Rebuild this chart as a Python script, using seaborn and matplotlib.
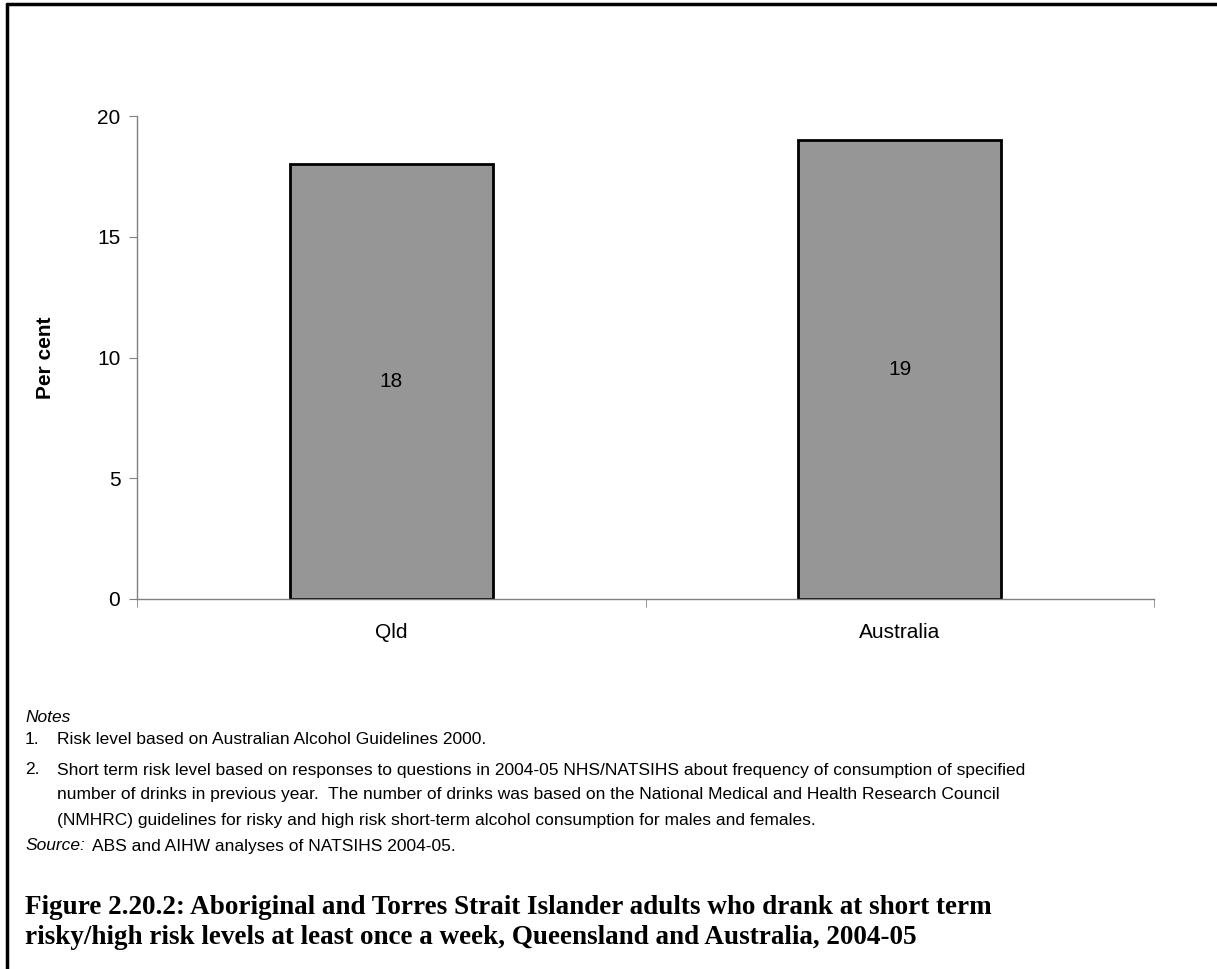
import matplotlib
matplotlib.use("Agg")
import matplotlib.pyplot as plt
from matplotlib.lines import Line2D
import seaborn as sns
import pandas as pd

regions = ["Qld", "Australia"]
per_cent = [18, 19]
y_ticks = [0, 5, 10, 15, 20]

notes = [
    ("1.", ["Risk level based on Australian Alcohol Guidelines 2000."]),
    ("2.", ["Short term risk level based on responses to questions in 2004-05 NHS/NATSIHS about frequency of consumption of specified",
            "number of drinks in previous year.  The number of drinks was based on the National Medical and Health Research Council",
            "(NMHRC) guidelines for risky and high risk short-term alcohol consumption for males and females."]),
]
source_text = "ABS and AIHW analyses of NATSIHS 2004-05."
caption = ["Figure 2.20.2: Aboriginal and Torres Strait Islander adults who drank at short term",
           "risky/high risk levels at least once a week, Queensland and Australia, 2004-05"]

sns.set_style("white")
plt.rcParams['font.family'] = ['Liberation Sans', 'DejaVu Sans']
plt.rcParams['text.color'] = 'black'
plt.rcParams['axes.labelcolor'] = 'black'
plt.rcParams['xtick.color'] = 'black'
plt.rcParams['ytick.color'] = 'black'

W, H = 1217, 969
fig = plt.figure(figsize=(W / 100, H / 100), dpi=100)
ax = fig.add_axes([137 / W, 1 - 599 / H, (1154 - 137) / W, (599 - 116) / H])

df = pd.DataFrame({"Region": regions, "Per cent": per_cent})
sns.barplot(data=df, x="Region", y="Per cent", color="#969696", saturation=1,
            edgecolor="black", linewidth=2, width=0.4, ax=ax)

for i, v in enumerate(per_cent):
    ax.text(i, v / 2, f"{v}", ha="center", va="center", fontsize=15)

ax.set_xlim(-0.5, len(regions) - 0.5)
ax.set_ylim(0, 20)
ax.set_yticks(y_ticks)
ax.set_xticks([-0.5, 0.5, 1.5], minor=True)
ax.tick_params(axis="x", which="major", length=0, labelsize=15, pad=17)
ax.tick_params(axis="x", which="minor", length=6, color="#808080", direction="out", bottom=True)
ax.tick_params(axis="y", length=6, color="#808080", labelsize=15, pad=6, left=True)
for s in ["top", "right"]:
    ax.spines[s].set_visible(False)
for s in ["left", "bottom"]:
    ax.spines[s].set_color("#808080")
    ax.spines[s].set_linewidth(1)
ax.set_xlabel("")
ax.set_ylabel("Per cent", fontsize=15, fontweight="bold", labelpad=30)

# figure frame (left and top only)
fig.add_artist(Line2D([7 / W, 7 / W], [0, 1 - 4 / H], color="black", lw=2.5, transform=fig.transFigure))
fig.add_artist(Line2D([7 / W, 1], [1 - 4 / H, 1 - 4 / H], color="black", lw=2.5, transform=fig.transFigure))

def fy(py):
    return 1 - py / H

fig.text(25 / W, fy(717), "Notes", fontsize=12.5, style="italic", va="center")
y = 740
for num, lines in notes:
    fig.text(25 / W, fy(y), num, fontsize=12.5, va="center")
    for ln in lines:
        fig.text(57 / W, fy(y), ln, fontsize=12.5, va="center")
        y += 25
    y += 5
fig.text(25 / W, fy(846), "Source:", fontsize=12.5, style="italic", va="center")
fig.text(92 / W, fy(846), source_text, fontsize=12.5, va="center")

for k, ln in enumerate(caption):
    fig.text(25 / W, fy(907 + 30 * k), ln, fontsize=19.5, fontweight="bold",
             family=["Liberation Serif", "DejaVu Serif"], va="center")

fig.savefig("out.png", dpi=100)
